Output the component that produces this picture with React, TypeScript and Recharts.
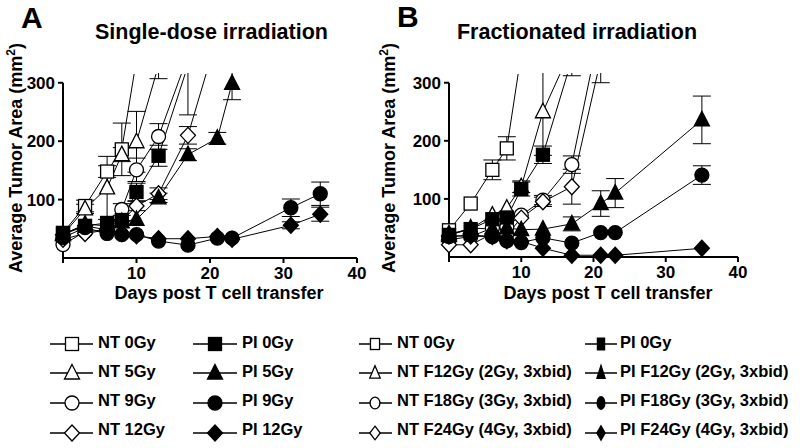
import {
  ComposedChart,
  Line,
  Scatter,
  XAxis,
  YAxis,
  ErrorBar,
  ReferenceLine,
} from "recharts";

const FONT = "'Liberation Sans', Arial, Helvetica, sans-serif";
const Y_TOP = 315;
const xTicks = [0, 10, 20, 30, 40];
const yTicks = [100, 200, 300];

// panel A: single-dose irradiation
const singleDays = [0, 3, 6, 8, 10, 13, 17, 21, 23, 31, 35];
const singleNt0 = [43, 89, 148, 186, 340, null, null, null, null, null, null];
const singleNt0Err = [0, 10, 10, 45, 0, 0, 0, 0, 0, 0, 0];
const singleNt5 = [40, 84, 120, 177, 199, 330, null, null, null, null, null];
const singleNt5Err = [0, 8, 54, 12, 52, 23, 0, 0, 0, 0, 0];
const singleNt9 = [23, 45, 48, 83, 151, 208, 346, null, null, null, null];
const singleNt9Err = [0, 0, 0, 10, 20, 22, 0, 0, 0, 0, 0];
const singleNt12 = [32, 42, 48, 63, 89, 110, 210, 380, null, null, null];
const singleNt12Err = [0, 0, 0, 0, 8, 10, 15, 0, 0, 0, 0];
const singlePi0 = [42, 55, 60, 65, 113, 175, 330, null, null, null, null];
const singlePi0Err = [0, 0, 0, 0, 15, 18, 85, 0, 0, 0, 0];
const singlePi5 = [40, 58, 55, 62, 66, 103, 177, 205, 299, null, null];
const singlePi5Err = [0, 0, 0, 0, 0, 8, 10, 10, 28, 0, 0];
const singlePi9 = [35, 52, 42, 40, 40, 29, 22, 34, 34, 86, 110];
const singlePi9Err = [0, 0, 0, 0, 0, 0, 0, 0, 0, 15, 20];
const singlePi12 = [40, 55, 48, 42, 38, 33, 33, 37, 32, 56, 75];
const singlePi12Err = [0, 0, 0, 0, 0, 0, 0, 0, 0, 6, 12];

// panel B: fractionated irradiation
const fracDays = [0, 3, 6, 8, 10, 13, 17, 21, 23, 35];
const fracNt0 = [46, 92, 150, 187, 350, null, null, null, null, null];
const fracNt0Err = [0, 0, 17, 20, 0, 0, 0, 0, 0, 0];
const fracNt12 = [40, 48, 72, 84, 121, 250, 360, null, null, null];
const fracNt12Err = [0, 0, 0, 0, 10, 75, 0, 0, 0, 0];
const fracNt18 = [30, 35, 50, 52, 72, 98, 159, 400, null, null];
const fracNt18Err = [0, 0, 0, 0, 0, 8, 15, 0, 0, 0];
const fracNt24 = [21, 21, 40, 38, 67, 95, 121, 340, null, null];
const fracNt24Err = [0, 0, 0, 0, 0, 8, 30, 40, 0, 0];
const fracPi0 = [38, 48, 65, 68, 117, 176, 340, null, null, null];
const fracPi0Err = [0, 0, 0, 0, 12, 15, 28, 0, 0, 0];
const fracPi12 = [37, 50, 48, 50, 47, 48, 57, 92, 110, 236];
const fracPi12Err = [0, 0, 0, 0, 0, 0, 12, 22, 25, 41];
const fracPi18 = [35, 38, 35, 28, 25, 33, 24, 42, 42, 141];
const fracPi18Err = [0, 0, 0, 0, 0, 0, 0, 0, 0, 16];
const fracPi24 = [36, 36, 35, 28, 27, 15, 3, 3, 3, 15];
const fracPi24Err = [0, 0, 0, 0, 0, 0, 0, 0, 0, 0];

type Shape = "square" | "triangle" | "circle" | "diamond";

interface Series {
  key: string;
  name: string;
  shape: Shape;
  filled: boolean;
  values: (number | null)[];
  errors: number[];
}

const singleSeries: Series[] = [
  { key: "nt0", name: "NT 0Gy", shape: "square", filled: false, values: singleNt0, errors: singleNt0Err },
  { key: "nt5", name: "NT 5Gy", shape: "triangle", filled: false, values: singleNt5, errors: singleNt5Err },
  { key: "nt9", name: "NT 9Gy", shape: "circle", filled: false, values: singleNt9, errors: singleNt9Err },
  { key: "nt12", name: "NT 12Gy", shape: "diamond", filled: false, values: singleNt12, errors: singleNt12Err },
  { key: "pi0", name: "PI 0Gy", shape: "square", filled: true, values: singlePi0, errors: singlePi0Err },
  { key: "pi5", name: "PI 5Gy", shape: "triangle", filled: true, values: singlePi5, errors: singlePi5Err },
  { key: "pi9", name: "PI 9Gy", shape: "circle", filled: true, values: singlePi9, errors: singlePi9Err },
  { key: "pi12", name: "PI 12Gy", shape: "diamond", filled: true, values: singlePi12, errors: singlePi12Err },
];

const fracSeries: Series[] = [
  { key: "nt0", name: "NT 0Gy", shape: "square", filled: false, values: fracNt0, errors: fracNt0Err },
  { key: "nt12", name: "NT F12Gy (2Gy, 3xbid)", shape: "triangle", filled: false, values: fracNt12, errors: fracNt12Err },
  { key: "nt18", name: "NT F18Gy (3Gy, 3xbid)", shape: "circle", filled: false, values: fracNt18, errors: fracNt18Err },
  { key: "nt24", name: "NT F24Gy (4Gy, 3xbid)", shape: "diamond", filled: false, values: fracNt24, errors: fracNt24Err },
  { key: "pi0", name: "PI 0Gy", shape: "square", filled: true, values: fracPi0, errors: fracPi0Err },
  { key: "pi12", name: "PI F12Gy (2Gy, 3xbid)", shape: "triangle", filled: true, values: fracPi12, errors: fracPi12Err },
  { key: "pi18", name: "PI F18Gy (3Gy, 3xbid)", shape: "circle", filled: true, values: fracPi18, errors: fracPi18Err },
  { key: "pi24", name: "PI F24Gy (4Gy, 3xbid)", shape: "diamond", filled: true, values: fracPi24, errors: fracPi24Err },
];

function Marker({
  shape,
  filled,
  cx,
  cy,
  sx = 1,
  sy = 1,
}: {
  shape: Shape;
  filled: boolean;
  cx: number;
  cy: number;
  sx?: number;
  sy?: number;
}) {
  const common = { fill: filled ? "#000" : "#fff", stroke: "#000", strokeWidth: 1.3 };
  if (shape === "square") {
    return <rect x={cx - 6.5 * sx} y={cy - 6.5 * sy} width={13 * sx} height={13 * sy} {...common} />;
  }
  if (shape === "circle") {
    return <ellipse cx={cx} cy={cy} rx={7 * sx} ry={7 * sy} {...common} />;
  }
  if (shape === "triangle") {
    const pts = `${cx},${cy - 8.5 * sy} ${cx + 7.5 * sx},${cy + 6 * sy} ${cx - 7.5 * sx},${cy + 6 * sy}`;
    return <polygon points={pts} {...common} />;
  }
  const pts = `${cx},${cy - 8 * sy} ${cx + 7.5 * sx},${cy} ${cx},${cy + 8 * sy} ${cx - 7.5 * sx},${cy}`;
  return <polygon points={pts} {...common} />;
}

const tickStyle = { fill: "#000", fontSize: 17, fontWeight: "bold", fontFamily: FONT };
const axisStroke = { stroke: "#000", strokeWidth: 2 };

function buildRows(days: number[], series: Series[]) {
  return days.map((day, i) => {
    const row: Record<string, number | null> = { day };
    series.forEach((s) => {
      row[s.key] = s.values[i];
      row[s.key + "Err"] = s.errors[i] || null;
    });
    return row;
  });
}

function Panel({
  days,
  series,
  margin,
  yWidth,
}: {
  days: number[];
  series: Series[];
  margin: { top: number; right: number; bottom: number; left: number };
  yWidth: number;
}) {
  const rows = buildRows(days, series);
  return (
    <ComposedChart width={400} height={300} data={rows} margin={margin}>
      <XAxis
        dataKey="day"
        type="number"
        domain={[0, 40]}
        ticks={xTicks}
        interval={0}
        tickFormatter={(v: number) => (v === 0 ? "" : String(v))}
        height={30}
        axisLine={axisStroke}
        tickLine={axisStroke}
        tickSize={5}
        tickMargin={4}
        tick={tickStyle}
      />
      <YAxis
        yAxisId="y"
        orientation="left"
        type="number"
        domain={[0, Y_TOP]}
        allowDataOverflow
        ticks={yTicks}
        interval={0}
        width={yWidth}
        axisLine={false}
        tickLine={axisStroke}
        tickSize={5}
        tickMargin={3}
        tick={tickStyle}
      />
      <YAxis yAxisId="dots" orientation="right" type="number" domain={[0, Y_TOP]} hide />
      <ReferenceLine
        yAxisId="y"
        segment={[
          { x: 0, y: 0 },
          { x: 0, y: 300 },
        ]}
        stroke="#000"
        strokeWidth={2}
      />
      {series.map((s) => (
        <Line
          key={"l-" + s.key}
          yAxisId="y"
          type="linear"
          dataKey={s.key}
          stroke="#000"
          strokeWidth={1}
          dot={false}
          activeDot={false}
          connectNulls
          isAnimationActive={false}
        >
          <ErrorBar dataKey={s.key + "Err"} width={9} stroke="#000" strokeWidth={1} direction="y" />
        </Line>
      ))}
      {series.map((s) => {
        const pts = days
          .map((day, i) => ({ day, val: s.values[i] }))
          .filter((p) => p.val != null && (p.val as number) <= Y_TOP);
        return (
          <Scatter
            key={"s-" + s.key}
            yAxisId="dots"
            data={pts}
            dataKey="val"
            isAnimationActive={false}
            shape={(p: any) => <Marker shape={s.shape} filled={s.filled} cx={p.cx} cy={p.cy} />}
          />
        );
      })}
    </ComposedChart>
  );
}

const legendRowsMarker = [344, 373, 403, 433];
const legendRowsText = [348, 377, 406, 435];

function LegendColumn({
  items,
  x1,
  x2,
  mx,
  tx,
  sx,
  sy,
}: {
  items: Series[];
  x1: number;
  x2: number;
  mx: number;
  tx: number;
  sx: number;
  sy: number;
}) {
  return (
    <g>
      {items.map((s, i) => (
        <g key={s.key}>
          <line x1={x1} x2={x2} y1={legendRowsMarker[i]} y2={legendRowsMarker[i]} stroke="#000" strokeWidth={1.5} />
          <Marker shape={s.shape} filled={s.filled} cx={mx} cy={legendRowsMarker[i]} sx={sx} sy={sy} />
          <text x={tx} y={legendRowsText[i]} fontSize={16.5} fontWeight="bold" fontFamily={FONT} fill="#000">
            {s.name}
          </text>
        </g>
      ))}
    </g>
  );
}

function YLabel({ x, y }: { x: number; y: number }) {
  return (
    <text
      x={x}
      y={y}
      transform={`rotate(-90 ${x} ${y})`}
      textAnchor="middle"
      fontSize={18}
      fontWeight="bold"
      fontFamily={FONT}
      fill="#000"
    >
      Average Tumor Area (mm
      <tspan dy={-7} fontSize={12}>
        2
      </tspan>
      <tspan dy={7}>)</tspan>
    </text>
  );
}

// the plot tops sit at y = 74; anything a series draws above that is cut away
const plotClip = "inset(73px 0 0 0)";

export default function App() {
  return (
    <div style={{ position: "absolute", left: 0, top: 0, width: 800, height: 448, background: "#fff" }}>
      <div style={{ position: "absolute", left: 0, top: 0, clipPath: plotClip }}>
        <Panel
          days={singleDays}
          series={singleSeries}
          margin={{ top: 74, right: 43, bottom: 12, left: 13 }}
          yWidth={50}
        />
      </div>
      <div style={{ position: "absolute", left: 400, top: 0, clipPath: plotClip }}>
        <Panel
          days={fracDays}
          series={fracSeries}
          margin={{ top: 74, right: 62, bottom: 13, left: 0 }}
          yWidth={49}
        />
      </div>
      <svg
        width={800}
        height={448}
        style={{ position: "absolute", left: 0, top: 0, pointerEvents: "none" }}
      >
        <text x={21} y={28} fontSize={30} fontWeight="bold" fontFamily={FONT}>
          A
        </text>
        <text x={397} y={27} fontSize={30} fontWeight="bold" fontFamily={FONT}>
          B
        </text>
        <text x={211.5} y={39} textAnchor="middle" fontSize={21.5} fontWeight="bold" fontFamily={FONT}>
          Single-dose irradiation
        </text>
        <text x={577} y={38.5} textAnchor="middle" fontSize={21.5} fontWeight="bold" fontFamily={FONT}>
          Fractionated irradiation
        </text>
        <YLabel x={22} y={158} />
        <YLabel x={395} y={158} />
        <text x={219} y={298.5} textAnchor="middle" fontSize={18} fontWeight="bold" fontFamily={FONT}>
          Days post T cell transfer
        </text>
        <text x={608} y={298.5} textAnchor="middle" fontSize={18} fontWeight="bold" fontFamily={FONT}>
          Days post T cell transfer
        </text>
        <LegendColumn items={singleSeries.slice(0, 4)} x1={50} x2={93} mx={72} tx={98} sx={1} sy={1} />
        <LegendColumn items={singleSeries.slice(4)} x1={193} x2={237} mx={215} tx={242} sx={1} sy={1} />
        <LegendColumn items={fracSeries.slice(0, 4)} x1={359} x2={392} mx={375} tx={397} sx={0.7} sy={0.85} />
        <LegendColumn items={fracSeries.slice(4)} x1={585} x2={617} mx={601} tx={620} sx={0.55} sy={0.9} />
      </svg>
    </div>
  );
}
